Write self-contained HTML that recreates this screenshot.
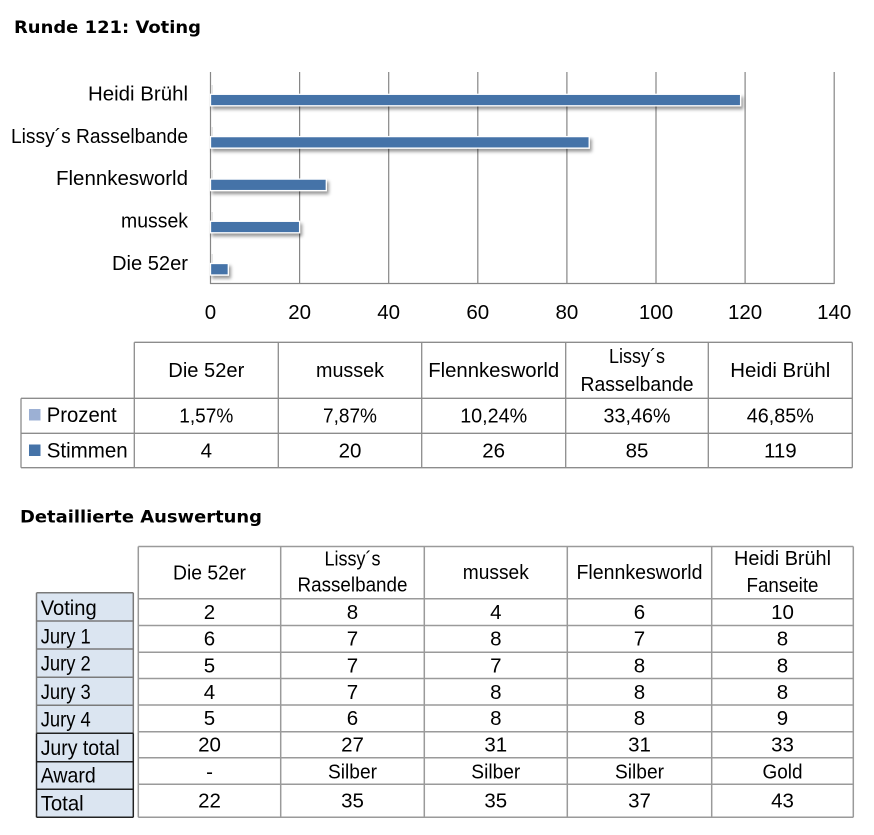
<!DOCTYPE html>
<html><head><meta charset="utf-8"><style>
html,body{margin:0;padding:0;background:#fff;}
svg{display:block;}
text{font-family:"Liberation Sans","DejaVu Sans",sans-serif;fill:#000;}
.b{font-family:"DejaVu Sans","Liberation Sans",sans-serif;font-weight:bold;}
.c{text-anchor:middle;font-size:20.5px;}
.lab{text-anchor:end;font-size:20.5px;}
.t{font-size:21px;}
</style></head><body>
<svg width="874" height="835" viewBox="0 0 874 835" xmlns="http://www.w3.org/2000/svg">
<defs>
<filter id="sh" x="-5%" y="-50%" width="115%" height="250%">
<feDropShadow dx="2" dy="3" stdDeviation="1.6" flood-color="#000" flood-opacity="0.4"/>
</filter>
</defs>
<rect width="874" height="835" fill="#fff"/>

<!-- Title -->
<text class="b" x="14" y="33" font-size="16.5" textLength="187" lengthAdjust="spacingAndGlyphs">Runde 121: Voting</text>

<!-- gridlines -->
<g stroke="#868686" stroke-width="1.2">
<line x1="210.5" y1="72" x2="210.5" y2="284"/>
<line x1="299.6" y1="72" x2="299.6" y2="284"/>
<line x1="388.7" y1="72" x2="388.7" y2="284"/>
<line x1="477.8" y1="72" x2="477.8" y2="284"/>
<line x1="566.9" y1="72" x2="566.9" y2="284"/>
<line x1="656" y1="72" x2="656" y2="284"/>
<line x1="745.1" y1="72" x2="745.1" y2="284"/>
<line x1="834.2" y1="72" x2="834.2" y2="284"/>
<line x1="210" y1="283.5" x2="834.5" y2="283.5"/>
</g>

<!-- faint Prozent bars -->
<g fill="#e6e6e6">
<rect x="211" y="85" width="2" height="9"/>
<rect x="211" y="127" width="2" height="9"/>
<rect x="211" y="170" width="2" height="9"/>
<rect x="211" y="212" width="2" height="9"/>
<rect x="211" y="254" width="2" height="9"/>
</g>

<!-- bars -->
<g fill="#4573a8" stroke="#fff" stroke-width="1.3" filter="url(#sh)">
<rect x="210.5" y="94.3" width="530.1" height="11.5"/>
<rect x="210.5" y="136.6" width="378.7" height="11.5"/>
<rect x="210.5" y="179.1" width="115.8" height="11.5"/>
<rect x="210.5" y="221.3" width="89.1" height="11.5"/>
<rect x="210.5" y="263.5" width="17.8" height="11.5"/>
</g>

<!-- category labels -->
<text class="lab" x="188" y="100.5" textLength="100" lengthAdjust="spacingAndGlyphs">Heidi Brühl</text>
<text class="lab" x="188" y="142.8" textLength="177" lengthAdjust="spacingAndGlyphs">Lissy´s Rasselbande</text>
<text class="lab" x="188" y="185" textLength="132" lengthAdjust="spacingAndGlyphs">Flennkesworld</text>
<text class="lab" x="188" y="227.3" textLength="67" lengthAdjust="spacingAndGlyphs">mussek</text>
<text class="lab" x="188" y="269.8" textLength="76" lengthAdjust="spacingAndGlyphs">Die 52er</text>

<!-- axis ticks -->
<g>
<text class="c" x="210.5" y="319">0</text>
<text class="c" x="299.6" y="319">20</text>
<text class="c" x="388.7" y="319">40</text>
<text class="c" x="477.8" y="319">60</text>
<text class="c" x="566.9" y="319">80</text>
<text class="c" x="656" y="319">100</text>
<text class="c" x="745.1" y="319">120</text>
<text class="c" x="834.2" y="319">140</text>
</g>

<!-- legend table -->
<g stroke="#8c8c8c" stroke-width="1.3">
<line x1="134.3" y1="342.3" x2="852.3" y2="342.3"/>
<line x1="21" y1="398.3" x2="852.3" y2="398.3"/>
<line x1="21" y1="433.3" x2="852.3" y2="433.3"/>
<line x1="21" y1="467.7" x2="852.3" y2="467.7"/>
<line x1="21" y1="398.3" x2="21" y2="467.7"/>
<line x1="134.3" y1="342.3" x2="134.3" y2="467.7"/>
<line x1="278.3" y1="342.3" x2="278.3" y2="467.7"/>
<line x1="421.7" y1="342.3" x2="421.7" y2="467.7"/>
<line x1="565.7" y1="342.3" x2="565.7" y2="467.7"/>
<line x1="708.3" y1="342.3" x2="708.3" y2="467.7"/>
<line x1="852.3" y1="342.3" x2="852.3" y2="467.7"/>
</g>
<text class="c" x="206.3" y="377" textLength="76" lengthAdjust="spacingAndGlyphs">Die 52er</text>
<text class="c" x="350" y="377" textLength="68" lengthAdjust="spacingAndGlyphs">mussek</text>
<text class="c" x="493.7" y="377" textLength="131" lengthAdjust="spacingAndGlyphs">Flennkesworld</text>
<text class="c" x="637" y="363" textLength="56" lengthAdjust="spacingAndGlyphs">Lissy´s</text>
<text class="c" x="637" y="391" textLength="113" lengthAdjust="spacingAndGlyphs">Rasselbande</text>
<text class="c" x="780.3" y="377" textLength="100" lengthAdjust="spacingAndGlyphs">Heidi Brühl</text>

<rect x="29" y="409" width="11.5" height="11.5" fill="#9cb0d4"/>
<rect x="29" y="444.5" width="11.5" height="11.5" fill="#4573a8"/>
<text class="t" x="46.7" y="422" textLength="70" lengthAdjust="spacingAndGlyphs">Prozent</text>
<text class="t" x="46.7" y="457.5" textLength="81" lengthAdjust="spacingAndGlyphs">Stimmen</text>

<text class="c" x="206.3" y="422.5" textLength="54" lengthAdjust="spacingAndGlyphs">1,57%</text>
<text class="c" x="350" y="422.5" textLength="54" lengthAdjust="spacingAndGlyphs">7,87%</text>
<text class="c" x="493.7" y="422.5" textLength="67" lengthAdjust="spacingAndGlyphs">10,24%</text>
<text class="c" x="637" y="422.5" textLength="67" lengthAdjust="spacingAndGlyphs">33,46%</text>
<text class="c" x="780.3" y="422.5" textLength="67" lengthAdjust="spacingAndGlyphs">46,85%</text>
<text class="c" x="206.3" y="457.5">4</text>
<text class="c" x="350" y="457.5">20</text>
<text class="c" x="493.7" y="457.5">26</text>
<text class="c" x="637" y="457.5">85</text>
<text class="c" x="780.3" y="457.5">119</text>

<!-- second title -->
<text class="b" x="20" y="522.5" font-size="17" textLength="242" lengthAdjust="spacingAndGlyphs">Detaillierte Auswertung</text>

<!-- label column -->
<rect x="36.5" y="592.7" width="96.8" height="224.6" fill="#dbe5f1"/>
<g stroke="#7a7a7a" stroke-width="1.5">
<line x1="36.5" y1="592.7" x2="133.3" y2="592.7"/>
<line x1="36.5" y1="621" x2="133.3" y2="621"/>
<line x1="36.5" y1="649" x2="133.3" y2="649"/>
<line x1="36.5" y1="677.3" x2="133.3" y2="677.3"/>
<line x1="36.5" y1="705.3" x2="133.3" y2="705.3"/>
<line x1="36.5" y1="592.7" x2="36.5" y2="733.3"/>
<line x1="133.3" y1="592.7" x2="133.3" y2="733.3"/>
</g>
<g stroke="#222" stroke-width="1.5">
<line x1="36.5" y1="733.3" x2="133.3" y2="733.3"/>
<line x1="36.5" y1="761.7" x2="133.3" y2="761.7"/>
<line x1="36.5" y1="789.3" x2="133.3" y2="789.3"/>
<line x1="36.5" y1="817.3" x2="133.3" y2="817.3"/>
<line x1="36.5" y1="733.3" x2="36.5" y2="817.3"/>
<line x1="133.3" y1="733.3" x2="133.3" y2="817.3"/>
</g>
<text class="t" x="40.7" y="615" textLength="56" lengthAdjust="spacingAndGlyphs">Voting</text>
<text class="t" x="40.7" y="643.3" textLength="50" lengthAdjust="spacingAndGlyphs">Jury 1</text>
<text class="t" x="40.7" y="670.7" textLength="50" lengthAdjust="spacingAndGlyphs">Jury 2</text>
<text class="t" x="40.7" y="699" textLength="50" lengthAdjust="spacingAndGlyphs">Jury 3</text>
<text class="t" x="40.7" y="726.7" textLength="50" lengthAdjust="spacingAndGlyphs">Jury 4</text>
<text class="t" x="40.7" y="755" textLength="79" lengthAdjust="spacingAndGlyphs">Jury total</text>
<text class="t" x="40.7" y="782.7" textLength="55" lengthAdjust="spacingAndGlyphs">Award</text>
<text class="t" x="40.7" y="810.7" textLength="43" lengthAdjust="spacingAndGlyphs">Total</text>

<!-- data grid -->
<g stroke="#9a9a9a" stroke-width="1.5">
<line x1="138.3" y1="546.5" x2="853.3" y2="546.5"/>
<line x1="138.3" y1="598.8" x2="853.3" y2="598.8"/>
<line x1="138.3" y1="625.5" x2="853.3" y2="625.5"/>
<line x1="138.3" y1="652.3" x2="853.3" y2="652.3"/>
<line x1="138.3" y1="678.5" x2="853.3" y2="678.5"/>
<line x1="138.3" y1="705" x2="853.3" y2="705"/>
<line x1="138.3" y1="731.7" x2="853.3" y2="731.7"/>
<line x1="138.3" y1="757.7" x2="853.3" y2="757.7"/>
<line x1="138.3" y1="784.3" x2="853.3" y2="784.3"/>
<line x1="138.3" y1="817.3" x2="853.3" y2="817.3"/>
<line x1="138.3" y1="546.5" x2="138.3" y2="817.3"/>
<line x1="280.7" y1="546.5" x2="280.7" y2="817.3"/>
<line x1="424.3" y1="546.5" x2="424.3" y2="817.3"/>
<line x1="567.3" y1="546.5" x2="567.3" y2="817.3"/>
<line x1="711.7" y1="546.5" x2="711.7" y2="817.3"/>
<line x1="853.3" y1="546.5" x2="853.3" y2="817.3"/>
</g>

<text class="c" x="209.5" y="579.3" textLength="73" lengthAdjust="spacingAndGlyphs">Die 52er</text>
<text class="c" x="352.5" y="565.7" textLength="56" lengthAdjust="spacingAndGlyphs">Lissy´s</text>
<text class="c" x="352.5" y="591.7" textLength="110" lengthAdjust="spacingAndGlyphs">Rasselbande</text>
<text class="c" x="495.8" y="579" textLength="66" lengthAdjust="spacingAndGlyphs">mussek</text>
<text class="c" x="639.5" y="579" textLength="126" lengthAdjust="spacingAndGlyphs">Flennkesworld</text>
<text class="c" x="782.5" y="565" textLength="97" lengthAdjust="spacingAndGlyphs">Heidi Brühl</text>
<text class="c" x="782.5" y="592" textLength="72" lengthAdjust="spacingAndGlyphs">Fanseite</text>

<!-- data values -->
<g>
<text class="c" x="209.5" y="619">2</text><text class="c" x="352.5" y="619">8</text><text class="c" x="495.8" y="619">4</text><text class="c" x="639.5" y="619">6</text><text class="c" x="782.5" y="619">10</text>
<text class="c" x="209.5" y="645.7">6</text><text class="c" x="352.5" y="645.7">7</text><text class="c" x="495.8" y="645.7">8</text><text class="c" x="639.5" y="645.7">7</text><text class="c" x="782.5" y="645.7">8</text>
<text class="c" x="209.5" y="672.3">5</text><text class="c" x="352.5" y="672.3">7</text><text class="c" x="495.8" y="672.3">7</text><text class="c" x="639.5" y="672.3">8</text><text class="c" x="782.5" y="672.3">8</text>
<text class="c" x="209.5" y="699">4</text><text class="c" x="352.5" y="699">7</text><text class="c" x="495.8" y="699">8</text><text class="c" x="639.5" y="699">8</text><text class="c" x="782.5" y="699">8</text>
<text class="c" x="209.5" y="725">5</text><text class="c" x="352.5" y="725">6</text><text class="c" x="495.8" y="725">8</text><text class="c" x="639.5" y="725">8</text><text class="c" x="782.5" y="725">9</text>
<text class="c" x="209.5" y="751.7">20</text><text class="c" x="352.5" y="751.7">27</text><text class="c" x="495.8" y="751.7">31</text><text class="c" x="639.5" y="751.7">31</text><text class="c" x="782.5" y="751.7">33</text>
<text class="c" x="209.5" y="778.3">-</text><text class="c" x="352.5" y="778.3" textLength="49" lengthAdjust="spacingAndGlyphs">Silber</text><text class="c" x="495.8" y="778.3" textLength="49" lengthAdjust="spacingAndGlyphs">Silber</text><text class="c" x="639.5" y="778.3" textLength="49" lengthAdjust="spacingAndGlyphs">Silber</text><text class="c" x="782.5" y="778.3" textLength="40" lengthAdjust="spacingAndGlyphs">Gold</text>
<text class="c" x="209.5" y="807.3">22</text><text class="c" x="352.5" y="807.3">35</text><text class="c" x="495.8" y="807.3">35</text><text class="c" x="639.5" y="807.3">37</text><text class="c" x="782.5" y="807.3">43</text>
</g>
</svg>
</body></html>
